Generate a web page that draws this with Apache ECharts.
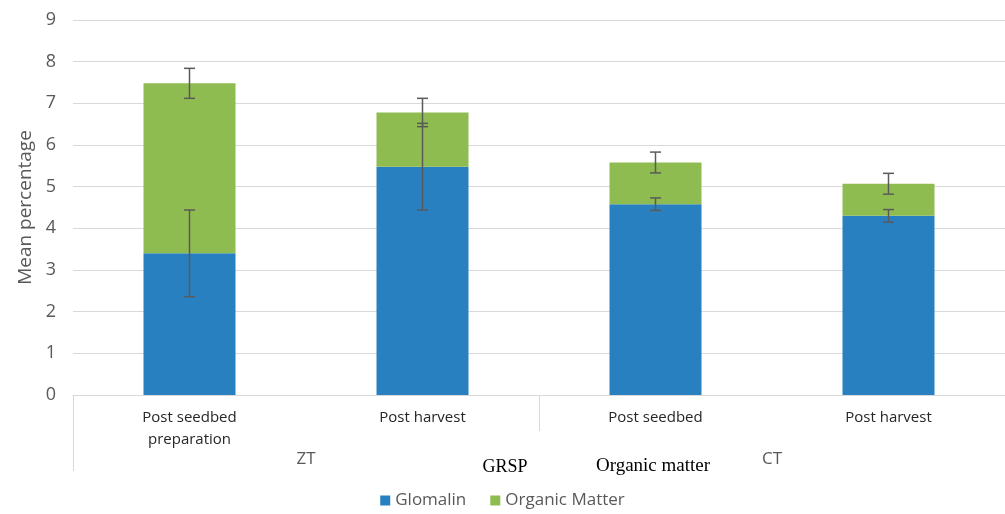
<!DOCTYPE html>
<html>
<head>
<meta charset="utf-8">
<script src="https://cdn.jsdelivr.net/npm/echarts@6/dist/echarts.min.js"></script>
<style>html,body{margin:0;padding:0;background:#fff;}#c{width:1005px;height:514px;}</style>
</head>
<body>
<div id="c"></div>
<script>
const categories = ['Post seedbed\npreparation', 'Post harvest', 'Post seedbed', 'Post harvest'];
const groups = ['ZT', 'CT'];
const glomalin = [3.40, 5.48, 4.58, 4.30];
const organicMatter = [4.08, 1.30, 1.00, 0.77];
const glomalinErr = [1.04, 1.04, 0.15, 0.15];
const organicErr = [0.36, 0.34, 0.25, 0.25];
const yTicks = [0, 1, 2, 3, 4, 5, 6, 7, 8, 9];

const totals = glomalin.map((g, i) => g + organicMatter[i]);
const errData = [];
glomalin.forEach((g, i) => errData.push([i, g - glomalinErr[i], g + glomalinErr[i]]));
totals.forEach((t, i) => errData.push([i, t - organicErr[i], t + organicErr[i]]));

const chart = echarts.init(document.getElementById('c'));
const font = '"Open Sans", sans-serif';
chart.setOption({
  animation: false,
  grid: { left: 73, right: 0, top: 20, bottom: 119, containLabel: false },
  legend: {
    bottom: 0, left: 'center', itemWidth: 10, itemHeight: 10, itemGap: 24,
    icon: 'rect',
    textStyle: { color: '#595959', fontSize: 17, fontFamily: font },
    data: ['Glomalin', 'Organic Matter']
  },
  xAxis: [{
    type: 'category', data: categories,
    axisLine: { lineStyle: { color: '#d9d9d9' } },
    axisTick: { show: false },
    axisLabel: { color: '#262626', fontSize: 15, fontFamily: font, margin: 12, lineHeight: 22 }
  }, {
    type: 'category', data: groups, position: 'bottom',
    axisLine: { show: false },
    axisTick: { show: true, length: 36, lineStyle: { color: '#d9d9d9' } },
    axisLabel: { color: '#595959', fontSize: 17, fontFamily: font, margin: 56 }
  }],
  yAxis: {
    type: 'value', min: yTicks[0], max: yTicks[yTicks.length - 1], interval: 1,
    name: 'Mean percentage', nameLocation: 'middle', nameGap: 36,
    nameTextStyle: { color: '#595959', fontSize: 19, fontFamily: font },
    axisLine: { show: false }, axisTick: { show: false },
    axisLabel: { color: '#595959', fontSize: 18, fontFamily: font, margin: 17 },
    splitLine: { lineStyle: { color: '#d9d9d9' } }
  },
  series: [{
    name: 'Glomalin', type: 'bar', stack: 'a', barWidth: 92,
    itemStyle: { color: '#2880c1' }, data: glomalin
  }, {
    name: 'Organic Matter', type: 'bar', stack: 'a', barWidth: 92,
    itemStyle: { color: '#8fbc50' }, data: organicMatter
  }, {
    type: 'custom', name: 'err', data: errData, z: 10,
    encode: { x: 0, y: [1, 2] },
    renderItem: function (params, api) {
      const x = api.value(0);
      const lo = api.coord([x, api.value(1)]);
      const hi = api.coord([x, api.value(2)]);
      const w = 5.5;
      const st = { stroke: '#5a5a5a', lineWidth: 1.5 };
      return { type: 'group', children: [
        { type: 'line', shape: { x1: lo[0], y1: lo[1], x2: hi[0], y2: hi[1] }, style: st },
        { type: 'line', shape: { x1: lo[0] - w, y1: lo[1], x2: lo[0] + w, y2: lo[1] }, style: st },
        { type: 'line', shape: { x1: hi[0] - w, y1: hi[1], x2: hi[0] + w, y2: hi[1] }, style: st }
      ]};
    }
  }],
  graphic: [
    { type: 'line', shape: { x1: 73.5, y1: 395, x2: 73.5, y2: 471 }, style: { stroke: '#d9d9d9', lineWidth: 1 } },
    { type: 'text', x: 505, y: 467, style: { text: 'GRSP', fill: '#000', font: '18px "Liberation Serif", serif', textAlign: 'center', textVerticalAlign: 'middle' } },
    { type: 'text', x: 653, y: 466, style: { text: 'Organic matter', fill: '#000', font: '19px "Liberation Serif", serif', textAlign: 'center', textVerticalAlign: 'middle' } }
  ]
});
</script>
</body>
</html>
